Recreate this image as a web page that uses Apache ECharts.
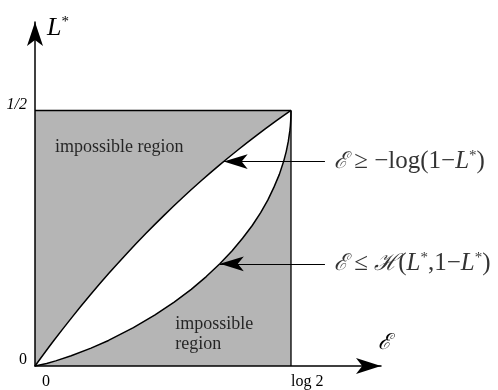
<!DOCTYPE html>
<html>
<head>
<meta charset="utf-8">
<script src="https://cdn.jsdelivr.net/npm/echarts@6/dist/echarts.min.js"></script>
<style>
  html, body { margin: 0; padding: 0; background: #fff; }
  #chart { width: 498px; height: 390px; }
</style>
</head>
<body>
<div id="chart"></div>
<script>
// Axis extents (E in nats, L* probability)
const LOG2 = 0.6931;
const L_HALF = 0.5;

// Upper bound  E >= -log(1-L*)  : samples of (E, L*)
const upperE = [0, 0.05, 0.1, 0.15, 0.2, 0.25, 0.3, 0.35, 0.4, 0.45, 0.5, 0.55, 0.6, 0.65, 0.6931];
const upperL = [0, 0.0488, 0.0952, 0.1393, 0.1813, 0.2212, 0.2592, 0.2953, 0.3297, 0.3624, 0.3935, 0.4231, 0.4512, 0.4780, 0.5];

// Lower bound  E <= H(L*, 1-L*)  : samples of (E, L*)
const lowerL = [0, 0.005, 0.01, 0.02, 0.035, 0.05, 0.075, 0.1, 0.125, 0.15, 0.175, 0.2, 0.225, 0.25, 0.275, 0.3, 0.325, 0.35, 0.375, 0.4, 0.42, 0.44, 0.46, 0.47, 0.48, 0.49, 0.5];
const lowerE = [0, 0.0315, 0.056, 0.098, 0.1517, 0.199, 0.2664, 0.325, 0.3768, 0.423, 0.4637, 0.5004, 0.5332, 0.562, 0.5882, 0.611, 0.6306, 0.647, 0.6616, 0.673, 0.6803, 0.6859, 0.6899, 0.6914, 0.6923, 0.6929, 0.6931];

// Tick labels
const xTickLabels = { 0: '{z|0}', [LOG2]: 'log 2' };
const yTickLabels = { 0: '0', [L_HALF]: '{it|1/2}' };

// Region captions and bound annotations
const regionLabels = [
  { pos: [0.054, 0.428], text: 'impossible region' },
  { pos: [0.38, 0.062], text: 'impossible\nregion' }
];
const bounds = [
  { tip: [0.5108, 0.40], tail: [0.785, 0.40], text: '{s|ℰ} ≥ −log(1−{i|L}{sup|*})' },
  { tip: [0.5004, 0.20], tail: [0.785, 0.20], text: '{s|ℰ} ≤ {s|ℋ}({i|L}{sup|*},1−{i|L}{sup|*})' }
];

const SERIF = '"Liberation Serif", "DejaVu Serif", serif';
const GRAY = '#b5b5b5';

const zip = (a, b) => a.map((v, i) => [v, b[i]]);

const chart = echarts.init(document.getElementById('chart'), null, { renderer: 'canvas' });

const eqRich = {
  s: { fontFamily: '"DejaVu Serif", serif', fontStyle: 'italic', fontSize: 23, color: '#000' },
  i: { fontFamily: SERIF, fontStyle: 'italic', fontSize: 25, color: '#000' },
  sup: { fontFamily: SERIF, fontSize: 15, color: '#000', padding: [0, 0, 11, 0] }
};

chart.setOption({
  animation: false,
  backgroundColor: '#fff',
  grid: { left: 35, right: 117, top: 22, bottom: 22, containLabel: false },
  xAxis: {
    type: 'value',
    min: 0,
    max: LOG2 * 346 / 256,
    interval: LOG2,
    z: 10,
    axisLine: { lineStyle: { color: '#000', width: 1.5 }, symbol: ['none', 'arrow'], symbolSize: [12, 25] },
    axisTick: { show: false },
    splitLine: { show: false },
    axisLabel: {
      showMaxLabel: false,
      align: 'left',
      margin: 8,
      fontFamily: SERIF,
      fontSize: 16,
      color: '#000',
      formatter: v => xTickLabels[v] ?? '',
      rich: { z: { fontFamily: SERIF, fontSize: 16, color: '#000', padding: [0, 0, 0, 7] } }
    },
    name: 'ℰ',
    nameLocation: 'end',
    nameGap: 3,
    nameTextStyle: { fontFamily: '"DejaVu Serif", serif', fontStyle: 'italic', fontSize: 22, color: '#000', align: 'center', verticalAlign: 'bottom', padding: [0, 0, 12, 0] }
  },
  yAxis: {
    type: 'value',
    min: 0,
    max: L_HALF * 346 / 257,
    interval: L_HALF,
    z: 10,
    axisLine: { lineStyle: { color: '#000', width: 1.5 }, symbol: ['none', 'arrow'], symbolSize: [12, 24] },
    axisTick: { show: false },
    splitLine: { show: false },
    axisLabel: {
      showMaxLabel: false,
      margin: 8,
      verticalAlign: 'bottom',
      lineHeight: 12,
      fontFamily: SERIF,
      fontSize: 16,
      color: '#000',
      formatter: v => yTickLabels[v] ?? '',
      rich: { it: { fontFamily: SERIF, fontStyle: 'italic', fontSize: 16, color: '#000', lineHeight: 12 } }
    },
    name: '{i|L}{sup|*}',
    nameLocation: 'end',
    nameGap: -6,
    nameTextStyle: {
      align: 'left',
      verticalAlign: 'middle',
      padding: [0, 0, 0, 12],
      rich: {
        i: { fontFamily: SERIF, fontStyle: 'italic', fontSize: 26, color: '#000' },
        sup: { fontFamily: SERIF, fontSize: 15, color: '#000', padding: [0, 0, 12, 0] }
      }
    }
  },
  series: [
    {
      // feasible square: gray fill with its top edge
      type: 'line', z: 1, symbol: 'none', silent: true,
      data: [[0, L_HALF], [LOG2, L_HALF]],
      lineStyle: { color: '#000', width: 1.3 },
      areaStyle: { color: GRAY, opacity: 1 }
    },
    {
      type: 'line', z: 2, symbol: 'none', silent: true, smooth: 0.3,
      data: zip(upperE, upperL),
      lineStyle: { color: '#000', width: 1.5 },
      areaStyle: { color: '#fff', opacity: 1 }
    },
    {
      type: 'line', z: 3, symbol: 'none', silent: true,
      data: zip(lowerE, lowerL),
      lineStyle: { color: '#000', width: 1.5 },
      areaStyle: { color: GRAY, opacity: 1 }
    },
    {
      // right edge of the square
      type: 'line', z: 4, symbol: 'none', silent: true,
      data: [[LOG2, L_HALF], [LOG2, 0]],
      lineStyle: { color: '#000', width: 1.3 }
    },
    {
      // captions and bound annotations
      type: 'scatter', z: 6, silent: true, symbolSize: 0,
      data: regionLabels.map(r => ({
        value: r.pos,
        label: {
          show: true, position: 'right', distance: 0, formatter: r.text,
          fontFamily: SERIF, fontSize: 18, color: '#000', lineHeight: 20, align: 'left'
        }
      })).concat(bounds.map(b => ({
        value: b.tail,
        label: { show: true, position: 'right', distance: 9, formatter: b.text, color: '#000', fontFamily: SERIF, fontSize: 25, rich: eqRich }
      }))),
      markLine: {
        silent: true,
        symbol: ['none', 'arrow'],
        symbolSize: [11, 24],
        lineStyle: { color: '#000', width: 1.2, type: 'solid' },
        label: { show: false },
        data: bounds.map(b => [{ coord: b.tail }, { coord: b.tip }])
      }
    }
  ]
});
</script>
</body>
</html>
